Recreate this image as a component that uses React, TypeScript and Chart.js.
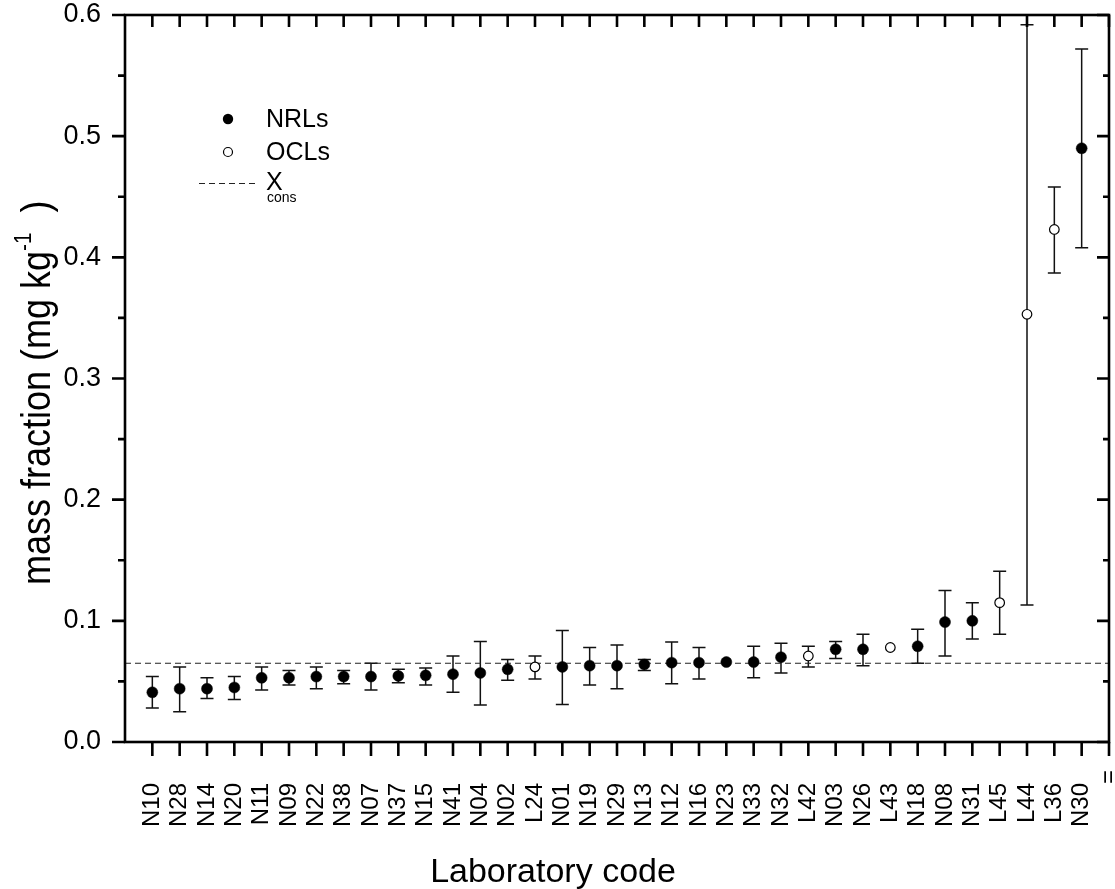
import React, { useEffect, useRef } from "react";
import { Chart, registerables } from "chart.js";

Chart.register(...registerables);

// ---- data ----
const labCodes = [
  "N10", "N28", "N14", "N20", "N11", "N09", "N22", "N38", "N07", "N37", "N15", "N41",
  "N04", "N02", "L24", "N01", "N19", "N29", "N13", "N12", "N16", "N23", "N33", "N32",
  "L42", "N03", "N26", "L43", "N18", "N08", "N31", "L45", "L44", "L36", "N30",
];
const extraTickLabel = "=";
const massFraction = [
  0.041, 0.044, 0.044, 0.045, 0.053, 0.053, 0.054, 0.054, 0.054, 0.0545, 0.055, 0.056,
  0.057, 0.060, 0.062, 0.062, 0.063, 0.063, 0.064, 0.0655, 0.0655, 0.066, 0.066, 0.070,
  0.071, 0.0765, 0.0765, 0.078, 0.079, 0.099, 0.100, 0.115, 0.353, 0.423, 0.490,
];
const lowerBound: (number | null)[] = [
  0.028, 0.025, 0.036, 0.035, 0.043, 0.047, 0.044, 0.048, 0.043, 0.049, 0.047, 0.041,
  0.0305, 0.051, 0.052, 0.031, 0.047, 0.044, 0.059, 0.048, 0.052, null, 0.053, 0.057,
  0.062, 0.069, 0.063, null, 0.065, 0.071, 0.085, 0.089, 0.113, 0.387, 0.408,
];
const upperBound: (number | null)[] = [
  0.054, 0.062, 0.053, 0.054, 0.062, 0.059, 0.062, 0.059, 0.065, 0.060, 0.061, 0.071,
  0.083, 0.068, 0.071, 0.092, 0.078, 0.080, 0.068, 0.0825, 0.078, null, 0.079, 0.0815,
  0.079, 0.083, 0.089, null, 0.093, 0.125, 0.115, 0.141, 0.592, 0.458, 0.572,
];
const xCons = 0.065;
const yTickValues = [0, 0.1, 0.2, 0.3, 0.4, 0.5, 0.6];

const FONT = 'Arial, "Liberation Sans", Helvetica, sans-serif';

const customPlugin = {
  id: "customDecor",
  beforeDatasetsDraw(chart: any) {
    const { ctx, scales } = chart;
    const xs = scales.x;
    const ys = scales.y;
    ctx.save();
    ctx.strokeStyle = "#111";
    ctx.lineWidth = 1.5;
    for (let i = 0; i < labCodes.length; i++) {
      const lo = lowerBound[i];
      const hi = upperBound[i];
      if (lo == null || hi == null) continue;
      const x = xs.getPixelForValue(i + 1);
      const y1 = ys.getPixelForValue(lo);
      const y2 = ys.getPixelForValue(hi);
      ctx.beginPath();
      ctx.moveTo(x, y1);
      ctx.lineTo(x, y2);
      ctx.moveTo(x - 6.5, y1);
      ctx.lineTo(x + 6.5, y1);
      ctx.moveTo(x - 6.5, y2);
      ctx.lineTo(x + 6.5, y2);
      ctx.stroke();
    }
    ctx.restore();
  },
  afterDraw(chart: any) {
    const { ctx, chartArea, scales } = chart;
    const xs = scales.x;
    const ys = scales.y;
    const { left, right, top, bottom } = chartArea;
    ctx.save();
    ctx.strokeStyle = "#000";
    ctx.lineWidth = 2.6;
    ctx.lineCap = "butt";
    // frame
    ctx.strokeRect(left, top, right - left, bottom - top);
    // x ticks
    ctx.beginPath();
    for (let i = 1; i <= labCodes.length + 1; i++) {
      const x = xs.getPixelForValue(i);
      ctx.moveTo(x, bottom);
      ctx.lineTo(x, bottom + 14);
      ctx.moveTo(x, top);
      ctx.lineTo(x, top + 12);
    }
    // y ticks
    for (let k = 0; k <= 12; k++) {
      const v = k * 0.05;
      const y = ys.getPixelForValue(v);
      const major = k % 2 === 0;
      ctx.moveTo(left - (major ? 13 : 7), y);
      ctx.lineTo(left, y);
      ctx.moveTo(right, y);
      ctx.lineTo(right - (major ? 12 : 6), y);
    }
    ctx.stroke();

    // extra end-of-axis label
    ctx.fillStyle = "#000";
    ctx.save();
    ctx.translate(xs.getPixelForValue(labCodes.length + 1), bottom + 28);
    ctx.rotate(-Math.PI / 2);
    ctx.font = `24px ${FONT}`;
    ctx.textAlign = "right";
    ctx.textBaseline = "middle";
    ctx.fillText(extraTickLabel, 0, 0);
    ctx.restore();

    // y title with superscript
    ctx.save();
    ctx.translate(50, 585);
    ctx.rotate(-Math.PI / 2);
    ctx.scale(0.9, 1);
    const mainFont = `40px ${FONT}`;
    const supFont = `23px ${FONT}`;
    const part1 = "mass fraction (mg kg";
    const part2 = "-1";
    const part3 = "  )";
    ctx.textBaseline = "alphabetic";
    ctx.textAlign = "left";
    let cx = 0;
    ctx.font = mainFont;
    ctx.fillText(part1, cx, 0);
    cx += ctx.measureText(part1).width;
    ctx.font = supFont;
    ctx.fillText(part2, cx, -19);
    cx += ctx.measureText(part2).width;
    ctx.font = mainFont;
    ctx.fillText(part3, cx, 0);
    ctx.restore();

    // x title
    ctx.font = `34px ${FONT}`;
    ctx.textAlign = "center";
    ctx.textBaseline = "alphabetic";
    ctx.fillText("Laboratory code", 553, 882);

    // legend
    ctx.lineWidth = 1.2;
    ctx.beginPath();
    ctx.arc(228, 119, 5.2, 0, Math.PI * 2);
    ctx.fillStyle = "#000";
    ctx.fill();
    ctx.beginPath();
    ctx.arc(228, 152, 4.5, 0, Math.PI * 2);
    ctx.fillStyle = "#fff";
    ctx.fill();
    ctx.strokeStyle = "#000";
    ctx.stroke();
    ctx.setLineDash([6, 4]);
    ctx.lineWidth = 1;
    ctx.strokeStyle = "#222";
    ctx.beginPath();
    ctx.moveTo(199, 183.5);
    ctx.lineTo(257, 183.5);
    ctx.stroke();
    ctx.setLineDash([]);
    ctx.fillStyle = "#000";
    ctx.font = `25px ${FONT}`;
    ctx.textAlign = "left";
    ctx.textBaseline = "middle";
    ctx.fillText("NRLs", 266, 120);
    ctx.fillText("OCLs", 266, 153);
    ctx.fillText("X", 266, 183);
    ctx.font = `14px ${FONT}`;
    ctx.textBaseline = "alphabetic";
    ctx.fillText("cons", 267, 202);
    ctx.restore();
  },
};

export default function App() {
  const canvasRef = useRef<HTMLCanvasElement | null>(null);

  useEffect(() => {
    const canvas = canvasRef.current;
    if (!canvas) return;
    const nrl: { x: number; y: number }[] = [];
    const ocl: { x: number; y: number }[] = [];
    labCodes.forEach((code, i) => {
      const pt = { x: i + 1, y: massFraction[i] };
      if (code.startsWith("L")) ocl.push(pt);
      else nrl.push(pt);
    });

    const chart = new Chart(canvas, {
      type: "scatter",
      data: {
        datasets: [
          {
            label: "NRLs",
            data: nrl,
            pointRadius: 5.5,
            pointBackgroundColor: "#000",
            pointBorderColor: "#000",
            pointBorderWidth: 0.5,
            showLine: false,
          },
          {
            label: "OCLs",
            data: ocl,
            pointRadius: 4.8,
            pointBackgroundColor: "#fff",
            pointBorderColor: "#000",
            pointBorderWidth: 1.2,
            showLine: false,
          },
          {
            type: "line",
            label: "Xcons",
            data: [
              { x: 0, y: xCons },
              { x: labCodes.length + 1, y: xCons },
            ],
            borderColor: "#222",
            borderWidth: 1.1,
            borderDash: [6, 4],
            pointRadius: 0,
            fill: false,
          } as any,
        ],
      },
      options: {
        responsive: false,
        animation: false,
        maintainAspectRatio: false,
        layout: { padding: { left: 0, top: 15, right: 3, bottom: 0 } },
        plugins: {
          legend: { display: false },
          tooltip: { enabled: false },
          title: { display: false },
        },
        scales: {
          x: {
            type: "linear",
            min: 0,
            max: labCodes.length + 1,
            afterBuildTicks: (scale: any) => {
              scale.ticks = labCodes.map((_, i) => ({ value: i + 1 }));
            },
            afterFit: (scale: any) => {
              scale.height = 889 - 742;
              scale.paddingLeft = 0;
              scale.paddingRight = 0;
            },
            ticks: {
              autoSkip: false,
              maxRotation: 90,
              minRotation: 90,
              padding: 41,
              color: "#000",
              font: { family: FONT, size: 24 },
              callback: (v: any) => {
                const idx = Math.round(Number(v)) - 1;
                return idx >= 0 && idx < labCodes.length ? labCodes[idx] : "";
              },
            },
            grid: { display: false, drawTicks: false },
            border: { display: false },
          },
          y: {
            type: "linear",
            min: 0,
            max: 0.6,
            afterBuildTicks: (scale: any) => {
              scale.ticks = yTickValues.map((v) => ({ value: v }));
            },
            afterFit: (scale: any) => {
              scale.width = 125;
              scale.paddingTop = 0;
              scale.paddingBottom = 0;
            },
            ticks: {
              padding: 24,
              color: "#000",
              font: { family: FONT, size: 27 },
              callback: (v: any) => Number(v).toFixed(1),
            },
            grid: { display: false, drawTicks: false },
            border: { display: false },
          },
        },
      },
      plugins: [customPlugin],
    });
    return () => chart.destroy();
  }, []);

  return (
    <div style={{ position: "fixed", left: 0, top: 0, width: 1115, height: 889, background: "#fff" }}>
      <canvas ref={canvasRef} width={1115} height={889} style={{ display: "block" }} />
    </div>
  );
}
